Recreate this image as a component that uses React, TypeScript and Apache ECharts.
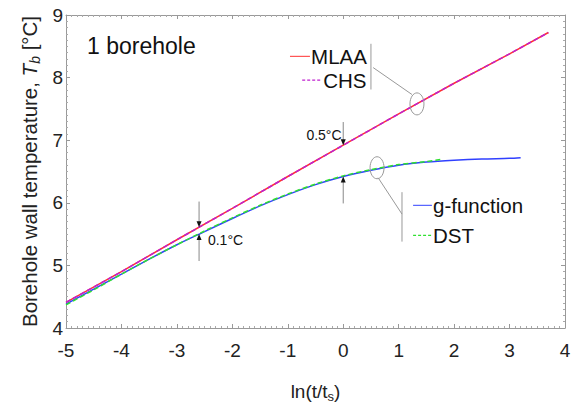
import React, { useEffect, useRef } from "react";
import * as echarts from "echarts";

const FONT = "'Liberation Sans', Arial, sans-serif";

// x: ln(t/ts), y: borehole wall temperature [°C]
const mlaaX = [-5, -4, -3, -2, -1, 0, 1, 2, 3, 3.7];
const mlaaY = [4.41, 4.9, 5.41, 5.91, 6.42, 6.92, 7.42, 7.91, 8.38, 8.72];
const chsX = [-5, -4, -3, -2, -1, 0, 1, 2, 3, 3.7];
const chsY = [4.41, 4.9, 5.41, 5.91, 6.42, 6.92, 7.42, 7.91, 8.38, 8.72];
const gX = [-5, -4.5, -4, -3.5, -3, -2.5, -2, -1.5, -1, -0.5, 0, 0.5, 1, 1.5, 2, 2.5, 3, 3.2];
const gY = [4.38, 4.62, 4.86, 5.1, 5.33, 5.54, 5.75, 5.95, 6.13, 6.29, 6.42, 6.52, 6.6, 6.65, 6.68, 6.7, 6.71, 6.72];
const dstX = [-5, -4.5, -4, -3.5, -3, -2.5, -2, -1.5, -1, -0.5, 0, 0.5, 1, 1.5, 1.75];
const dstY = [4.37, 4.61, 4.86, 5.1, 5.33, 5.55, 5.76, 5.96, 6.14, 6.3, 6.43, 6.53, 6.61, 6.66, 6.69];

const xMin = -5, xMax = 4, yMin = 4, yMax = 9;

const zip = (xs: number[], ys: number[]) => xs.map((x, i) => [x, ys[i]]);

const axisColor = "#999";

function baseX(position: "bottom" | "top", labels: boolean) {
  return {
    type: "value",
    position,
    min: xMin,
    max: xMax,
    interval: 1,
    axisLine: { show: true, onZero: false, lineStyle: { color: axisColor, width: 1 } },
    axisTick: { show: true, inside: true, length: 4, lineStyle: { color: axisColor } },
    minorTick: { show: true, splitNumber: 10, length: 2, lineStyle: { color: "#aaa" } },
    splitLine: { show: false },
    axisLabel: { show: labels, fontSize: 19, color: "#222", fontFamily: FONT, margin: 13 },
  };
}
function baseY(position: "left" | "right", labels: boolean) {
  return {
    type: "value",
    position,
    min: yMin,
    max: yMax,
    interval: 1,
    axisLine: { show: true, onZero: false, lineStyle: { color: axisColor, width: 1 } },
    axisTick: { show: true, inside: true, length: 4, lineStyle: { color: axisColor } },
    minorTick: { show: true, splitNumber: 10, length: 2, lineStyle: { color: "#aaa" } },
    splitLine: { show: false },
    axisLabel: { show: labels, fontSize: 19, color: "#222", fontFamily: FONT, margin: 3 },
  };
}

export default function App() {
  const ref = useRef<HTMLDivElement>(null);
  useEffect(() => {
    if (!ref.current) return;
    const chart = echarts.init(ref.current, null, { renderer: "svg" });
    const xa0: any = baseX("bottom", true);
    xa0.name = "{a|ln(t/t}{s|s}{a|)}";
    xa0.nameLocation = "middle";
    xa0.nameGap = 51;
    xa0.nameTextStyle = {
      rich: {
        a: { fontSize: 19, color: "#222", fontFamily: FONT, lineHeight: 24 },
        s: { fontSize: 13, color: "#222", fontFamily: FONT, lineHeight: 24, verticalAlign: "bottom", padding: [10, 0, 0, 0] },
      },
    };
    const ya0: any = baseY("left", true);
    ya0.name = "{a|Borehole wall temperature, }{i|T}{s|b}{a| [°C]}";
    ya0.nameLocation = "middle";
    ya0.nameGap = 24;
    ya0.nameTextStyle = {
      rich: {
        a: { fontSize: 20.5, color: "#222", fontFamily: FONT, lineHeight: 24 },
        i: { fontSize: 20.5, color: "#222", fontFamily: FONT, fontStyle: "italic", lineHeight: 24 },
        s: { fontSize: 14, color: "#222", fontFamily: FONT, fontStyle: "italic", lineHeight: 24, verticalAlign: "bottom", padding: [10, 0, 0, 0] },
      },
    };
    chart.setOption({
      animation: false,
      backgroundColor: "#fff",
      grid: { left: 66, right: 11, top: 15, bottom: 66 },
      xAxis: [xa0, baseX("top", false)],
      yAxis: [ya0, baseY("right", false)],
      series: [
        { name: "MLAA", type: "line", data: zip(mlaaX, mlaaY), showSymbol: false, lineStyle: { color: "#ff3030", width: 1.5 }, z: 2 },
        { name: "CHS", type: "line", data: zip(chsX, chsY), showSymbol: false, lineStyle: { color: "#c020d0", width: 1.5, type: [5, 3] }, z: 3 },
        { name: "g-function", type: "line", data: zip(gX, gY), showSymbol: false, smooth: 0.3, lineStyle: { color: "#3040ff", width: 1.5 }, z: 2 },
        { name: "DST", type: "line", data: zip(dstX, dstY), showSymbol: false, smooth: 0.3, lineStyle: { color: "#30e030", width: 1.5, type: [5, 3] }, z: 3 },
      ],
    });

    const P = (x: number, y: number) => chart.convertToPixel({ xAxisIndex: 0, yAxisIndex: 0 }, [x, y]) as number[];
    const gray = "#999";
    const line = (a: number[], b: number[], color = gray) => ({
      type: "line",
      shape: { x1: a[0], y1: a[1], x2: b[0], y2: b[1] },
      style: { stroke: color, lineWidth: 1 },
      z: 10,
    });
    const arrowHead = (tip: number[], dir: number) => ({
      type: "polygon",
      shape: { points: [[tip[0], tip[1]], [tip[0] - 2.5, tip[1] - 6 * dir], [tip[0] + 2.5, tip[1] - 6 * dir]] },
      style: { fill: "#111" },
      z: 11,
    });
    const text = (p: number[], s: string, size: number, align = "left") => ({
      type: "text",
      x: p[0],
      y: p[1],
      style: { text: s, fontSize: size, fontFamily: FONT, fill: "#111", align, verticalAlign: "middle" },
      z: 12,
    });
    const ellipse = (c: number[]) => ({
      type: "ellipse",
      shape: { cx: c[0], cy: c[1], rx: 7, ry: 11 },
      style: { fill: "none", stroke: gray, lineWidth: 1 },
      z: 10,
    });

    const els: any[] = [];
    els.push(text(P(-4.62, 8.51), "1 borehole", 23));
    // upper legend
    els.push(line(P(-0.96, 8.34), P(-0.6, 8.34), "#ff3030"));
    els.push(text(P(-0.58, 8.34), "MLAA", 20.5));
    els.push({ ...line(P(-0.74, 7.96), P(-0.38, 7.96), "#c020d0"), style: { stroke: "#c020d0", lineWidth: 1.2, lineDash: [3, 2] } });
    els.push(text(P(-0.36, 7.96), "CHS", 20.5));
    els.push(line(P(0.5, 8.54), P(0.5, 7.81)));
    els.push(line(P(0.54, 8.16), P(1.24, 7.73)));
    els.push(ellipse(P(1.33, 7.58)));
    // 0.5°C arrows at x = 0
    const t1 = P(0, 6.92);
    els.push(line(P(0, 7.29), [t1[0], t1[1] - 5], "#888"));
    els.push(arrowHead(t1, 1));
    const t2 = P(0, 6.42);
    els.push(line(P(0, 5.99), [t2[0], t2[1] + 5], "#888"));
    els.push(arrowHead(t2, -1));
    els.push(text(P(-0.03, 7.09), "0.5°C", 14, "right"));
    // 0.1°C arrows at x = -2.6
    const t3 = P(-2.6, 5.61);
    els.push(line(P(-2.6, 6.02), [t3[0], t3[1] - 5], "#888"));
    els.push(arrowHead(t3, 1));
    const t4 = P(-2.6, 5.5);
    els.push(line(P(-2.6, 5.07), [t4[0], t4[1] + 5], "#888"));
    els.push(arrowHead(t4, -1));
    els.push(text(P(-2.44, 5.41), "0.1°C", 14));
    // lower legend
    els.push(ellipse(P(0.61, 6.56)));
    els.push(line(P(0.63, 6.4), P(1.06, 5.82)));
    els.push(line(P(1.06, 6.17), P(1.06, 5.38)));
    els.push(line(P(1.26, 5.96), P(1.6, 5.96), "#3040ff"));
    els.push(text(P(1.62, 5.96), "g-function", 20.5));
    els.push({ ...line(P(1.26, 5.48), P(1.6, 5.48), "#30e030"), style: { stroke: "#30e030", lineWidth: 1.2, lineDash: [3, 2] } });
    els.push(text(P(1.62, 5.48), "DST", 20.5));

    chart.setOption({ graphic: els });
    return () => chart.dispose();
  }, []);
  return <div ref={ref} style={{ width: 576, height: 408, position: "fixed", left: 0, top: 0 }} />;
}
